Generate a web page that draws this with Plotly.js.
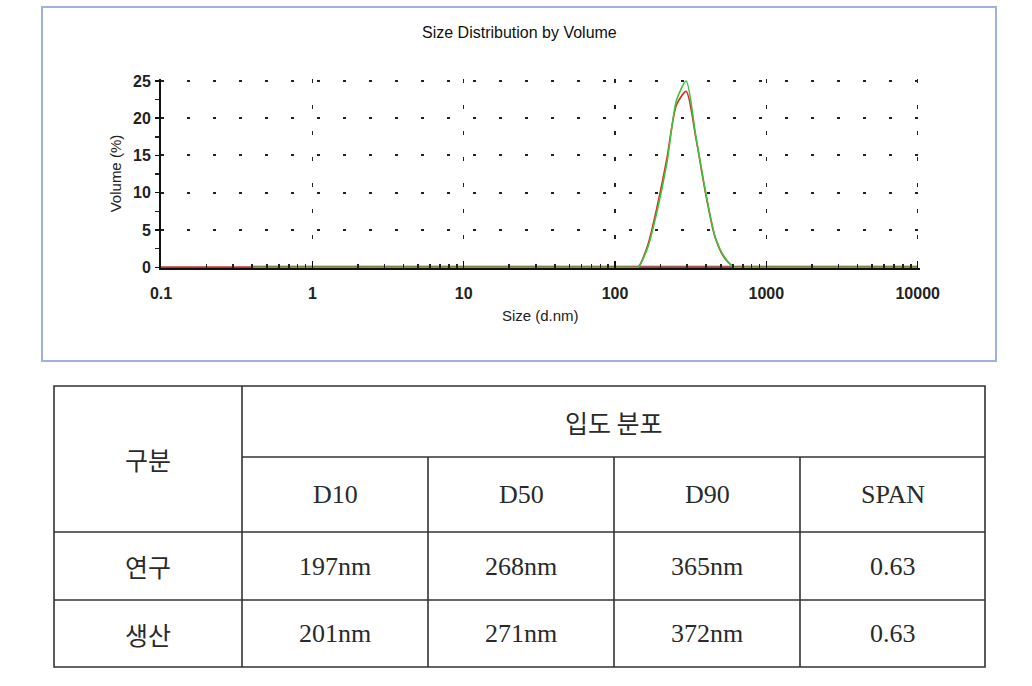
<!DOCTYPE html>
<html>
<head>
<meta charset="utf-8">
<script src="https://cdn.plot.ly/plotly-3.0.1.min.js"></script>
<style>
  html, body { margin: 0; padding: 0; background: #ffffff; }
  #chart { width: 1032px; height: 686px; }
</style>
</head>
<body>
<div id="chart"></div>
<script>
// ---------- chart data ----------
const chartTitle = "Size Distribution by Volume";
const xAxisTitle = "Size (d.nm)";
const yAxisTitle = "Volume (%)";
const xTickVals = [0.1, 1, 10, 100, 1000, 10000];
const xTickText = ["0.1", "1", "10", "100", "1000", "10000"];
const yTickVals = [0, 5, 10, 15, 20, 25];

// size bins (d.nm)
const sizeBins = [0.4, 122.4, 141.8, 164.2, 190.1, 220.2, 255.0, 295.3, 342.0, 396.1, 458.7, 531.2, 615.1, 712.4, 10000];
// record: 연구 (red)
const volumeResearch = [0, 0, 0, 2.9, 8.2, 14.6, 21.8, 23.6, 17.4, 10.0, 4.0, 1.2, 0, 0, 0];
// record: 생산 (green)
const volumeProduction = [0, 0, 0, 2.6, 7.6, 14.0, 22.4, 25.0, 17.6, 10.2, 4.1, 1.3, 0, 0, 0];
// flat baseline records
const baselineSizes = [0.1, 10000];
const baselineValues = [0, 0];
const baseline2Sizes = [0.4, 10000];
const baseline2Values = [0, 0];

// ---------- table data ----------
const tableCorner = "구분";
const tableGroup = "입도 분포";
const tableColumns = ["D10", "D50", "D90", "SPAN"];
const tableRows = ["연구", "생산"];
const colD10 = ["197nm", "201nm"];
const colD50 = ["268nm", "271nm"];
const colD90 = ["365nm", "372nm"];
const colSpan = ["0.63", "0.63"];

// ---------- layout helpers (pixel -> paper) ----------
const W = 1032, H = 686;
const px = v => v / W;
const py = v => 1 - v / H;

const traces = [
  { x: baseline2Sizes, y: baseline2Values, type: "scatter", mode: "lines",
    line: { color: "#40c8e8", width: 3.4 }, hoverinfo: "skip", showlegend: false },
  { x: baselineSizes, y: baselineValues, type: "scatter", mode: "lines",
    line: { color: "#c8302a", width: 2 }, hoverinfo: "skip", showlegend: false },
  { x: sizeBins, y: volumeResearch, type: "scatter", mode: "lines", name: tableRows[0],
    line: { color: "#e0281e", width: 1.6, shape: "spline", smoothing: 0.7 }, showlegend: false },
  { x: sizeBins, y: volumeProduction, type: "scatter", mode: "lines", name: tableRows[1],
    line: { color: "#3cc23c", width: 1.6, shape: "spline", smoothing: 0.7 }, showlegend: false }
];

// table geometry (pixels)
const colX = [54, 242, 428, 614, 800, 985];
const rowY = [386, 457, 532, 600, 667];
const lineStyle = { color: "#333333", width: 1.6 };

const shapes = [
  // chart frame
  { type: "rect", xref: "paper", yref: "paper", x0: px(42), x1: px(996), y0: py(361), y1: py(7),
    line: { color: "#9fb2dc", width: 2 }, fillcolor: "rgba(0,0,0,0)", layer: "below" },
  // table outer
  { type: "rect", xref: "paper", yref: "paper", x0: px(colX[0]), x1: px(colX[5]), y0: py(rowY[4]), y1: py(rowY[0]),
    line: lineStyle, fillcolor: "rgba(0,0,0,0)" },
  // first column divider
  { type: "line", xref: "paper", yref: "paper", x0: px(colX[1]), x1: px(colX[1]), y0: py(rowY[0]), y1: py(rowY[4]), line: lineStyle },
  // header split
  { type: "line", xref: "paper", yref: "paper", x0: px(colX[1]), x1: px(colX[5]), y0: py(rowY[1]), y1: py(rowY[1]), line: lineStyle },
  // row lines
  { type: "line", xref: "paper", yref: "paper", x0: px(colX[0]), x1: px(colX[5]), y0: py(rowY[2]), y1: py(rowY[2]), line: lineStyle },
  { type: "line", xref: "paper", yref: "paper", x0: px(colX[0]), x1: px(colX[5]), y0: py(rowY[3]), y1: py(rowY[3]), line: lineStyle }
];
for (let c = 2; c <= 4; c++) {
  shapes.push({ type: "line", xref: "paper", yref: "paper", x0: px(colX[c]), x1: px(colX[c]),
    y0: py(rowY[1]), y1: py(rowY[4]), line: lineStyle });
}

const serif = "Liberation Serif, DejaVu Serif, Noto Sans CJK KR, serif";
const kr = "Noto Sans CJK KR, sans-serif";
const cellFont = { family: serif, size: 26, color: "#2a2a2a" };
const krFont = { family: kr, size: 25, color: "#2a2a2a" };
const sans = "Liberation Sans, Arial, sans-serif";

const annotations = [
  { text: chartTitle, xref: "paper", yref: "paper", x: px(519), y: py(32), showarrow: false,
    font: { family: sans, size: 16, color: "#111" }, xanchor: "center", yanchor: "middle" },
  { text: tableCorner, xref: "paper", yref: "paper", x: px((colX[0] + colX[1]) / 2), y: py((rowY[0] + rowY[2]) / 2),
    showarrow: false, font: krFont, xanchor: "center", yanchor: "middle" },
  { text: tableGroup, xref: "paper", yref: "paper", x: px((colX[1] + colX[5]) / 2), y: py((rowY[0] + rowY[1]) / 2),
    showarrow: false, font: krFont, xanchor: "center", yanchor: "middle" }
];
tableColumns.forEach((t, i) => {
  annotations.push({ text: t, xref: "paper", yref: "paper", x: px((colX[i + 1] + colX[i + 2]) / 2),
    y: py((rowY[1] + rowY[2]) / 2), showarrow: false, font: cellFont, xanchor: "center", yanchor: "middle" });
});
const tableCols = [colD10, colD50, colD90, colSpan];
tableRows.forEach((r, j) => {
  const yc = py((rowY[2 + j] + rowY[3 + j]) / 2);
  annotations.push({ text: r, xref: "paper", yref: "paper", x: px((colX[0] + colX[1]) / 2), y: yc,
    showarrow: false, font: krFont, xanchor: "center", yanchor: "middle" });
  tableCols.forEach((col, i) => {
    annotations.push({ text: col[j], xref: "paper", yref: "paper", x: px((colX[i + 1] + colX[i + 2]) / 2), y: yc,
      showarrow: false, font: cellFont, xanchor: "center", yanchor: "middle" });
  });
});

const axisFont = { family: sans, size: 16, color: "#222", weight: "bold" };
const titleFont = { family: sans, size: 15, color: "#222" };

const layout = {
  width: W, height: H,
  margin: { l: 0, r: 0, t: 0, b: 0 },
  paper_bgcolor: "#ffffff", plot_bgcolor: "#ffffff",
  showlegend: false,
  xaxis: {
    type: "log", range: [-1, 4.012], domain: [px(161), px(919.5)],
    tickvals: xTickVals, ticktext: xTickText,
    ticks: "inside", ticklen: 7, tickwidth: 1.5, tickcolor: "#111",
    minor: { ticks: "inside", ticklen: 4, tickwidth: 1.5, tickcolor: "#222", dtick: "D1", showgrid: false },
    showline: true, linecolor: "#111", linewidth: 1.5,
    showgrid: true, gridcolor: "#222", gridwidth: 1.5, griddash: "4px,22px",
    zeroline: false,
    tickfont: axisFont, ticklabelstandoff: 10,
    title: { text: xAxisTitle, font: titleFont, standoff: 10 },
    fixedrange: true
  },
  yaxis: {
    range: [-0.1, 25.25], domain: [1 - 268 / H, 1 - 79.1 / H],
    tickvals: yTickVals,
    ticks: "outside", ticklen: 4, tickwidth: 1.5, tickcolor: "#111",
    minor: { ticks: "outside", ticklen: 4, tickwidth: 1.5, tickcolor: "#222", dtick: 2.5, showgrid: false },
    showline: true, linecolor: "#111", linewidth: 2,
    showgrid: true, gridcolor: "#222", gridwidth: 2, griddash: "3px,23px",
    zeroline: false,
    tickfont: axisFont, ticklabelstandoff: 1,
    title: { text: yAxisTitle, font: titleFont, standoff: 8 },
    fixedrange: true
  },
  shapes: shapes,
  annotations: annotations
};

Plotly.newPlot("chart", traces, layout, { displayModeBar: false, staticPlot: true });
</script>
</body>
</html>
